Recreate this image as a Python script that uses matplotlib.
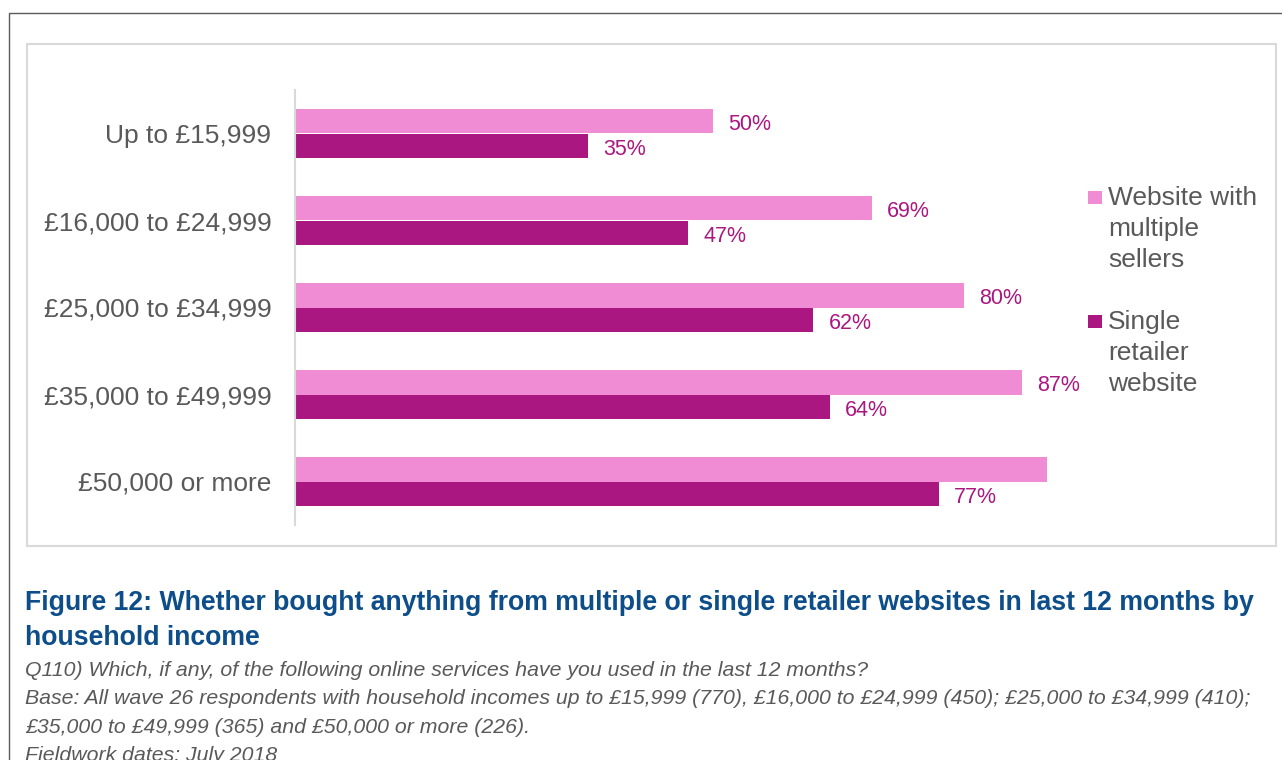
import matplotlib
matplotlib.use("Agg")
import matplotlib.pyplot as plt
from matplotlib.patches import Rectangle
import numpy as np

plt.rcParams['font.family'] = ['Liberation Sans', 'DejaVu Sans']

# income bands, top to bottom
categories = ["Up to £15,999", "£16,000 to £24,999", "£25,000 to £34,999",
              "£35,000 to £49,999", "£50,000 or more"]
multiple_sellers = [50, 69, 80, 87, 90]
single_retailer = [35, 47, 62, 64, 77]
# the top band of the last row carries no label in the source
multiple_labels = ["50%", "69%", "80%", "87%", ""]
single_labels = ["35%", "47%", "62%", "64%", "77%"]

series_names = ["Website with\nmultiple\nsellers", "Single\nretailer\nwebsite"]

title_lines = [
    "Figure 12: Whether bought anything from multiple or single retailer websites in last 12 months by",
    "household income",
]
note_lines = [
    "Q110) Which, if any, of the following online services have you used in the last 12 months?",
    "Base: All wave 26 respondents with household incomes up to £15,999 (770), £16,000 to £24,999 (450); £25,000 to £34,999 (410);",
    "£35,000 to £49,999 (365) and £50,000 or more (226).",
    "Fieldwork dates: July 2018",
]

PINK = "#F08CD3"
PLUM = "#AB1780"
GREY = "#595959"
BLUE = "#0D4E8A"

W, H = 1282, 760
fig = plt.figure(figsize=(W / 100, H / 100), dpi=100)


def px(x, y):
    # pixel coords (top-left origin) -> figure fraction
    return x / W, 1 - y / H


# outer frame and chart area box
x0, y0 = px(9, 13)
fig.patches.append(Rectangle((x0, -0.1), 1.2, y0 + 0.1, transform=fig.transFigure,
                             fill=False, edgecolor="#5A5A5A", linewidth=1.0))
bx0, by1 = px(27, 44)
bx1, by0 = px(1276, 546)
fig.patches.append(Rectangle((bx0, by0), bx1 - bx0, by1 - by0, transform=fig.transFigure,
                             fill=False, edgecolor="#D9D9D9", linewidth=1.5))

# bar axes
left, top = px(295, 90)
_, bottom = px(0, 525)
ax = fig.add_axes([left, bottom, 836 / W, top - bottom])
ax.set_xlim(0, 100)
ax.set_ylim(len(categories) - 0.5, -0.5)

y = np.arange(len(categories))
h = 0.287
ax.barh(y - h / 2, multiple_sellers, height=h, color=PINK)
ax.barh(y + h / 2, single_retailer, height=h, color=PLUM)

for yi, v, lab in zip(y - h / 2, multiple_sellers, multiple_labels):
    if lab:
        ax.annotate(lab, (v, yi), xytext=(11, -2.5), textcoords="offset points",
                    va="center", ha="left", fontsize=15.5, color=PLUM)
for yi, v, lab in zip(y + h / 2, single_retailer, single_labels):
    ax.annotate(lab, (v, yi), xytext=(11, -2.5), textcoords="offset points",
                va="center", ha="left", fontsize=15.5, color=PLUM)

ax.set_yticks(y)
ax.set_yticklabels(categories, fontsize=19, color=GREY)
ax.tick_params(axis="y", length=0, pad=17)
ax.set_xticks([])
for s in ["top", "right", "bottom"]:
    ax.spines[s].set_visible(False)
ax.spines["left"].set_color("#D9D9D9")
ax.spines["left"].set_linewidth(1.5)
ax.patch.set_alpha(0)

# legend drawn by hand so the wrapped labels sit like the source
for (sq_y, text_y), col, name in zip([(191, 205), (315, 329)], [PINK, PLUM], series_names):
    sx, sy = px(1088, sq_y + 13)
    fig.patches.append(Rectangle((sx, sy), 14 / W, 13 / H, transform=fig.transFigure,
                                 color=col, linewidth=0))
    tx, ty = px(1108, text_y)
    lines = name.split("\n")
    for k, line in enumerate(lines):
        fig.text(tx, ty - k * 31 / H, line, fontsize=19, color=GREY, va="baseline", ha="left")

# caption block
for k, line in enumerate(title_lines):
    fx, fy = px(25, 610 + k * 35)
    fig.text(fx, fy, line, fontsize=19.2, fontweight="bold", color=BLUE, va="baseline")
for k, line in enumerate(note_lines):
    fx, fy = px(25, 676 + k * 28.3)
    fig.text(fx, fy, line, fontsize=15.3, style="italic", color=GREY, va="baseline")

fig.savefig("out.png", dpi=100)
